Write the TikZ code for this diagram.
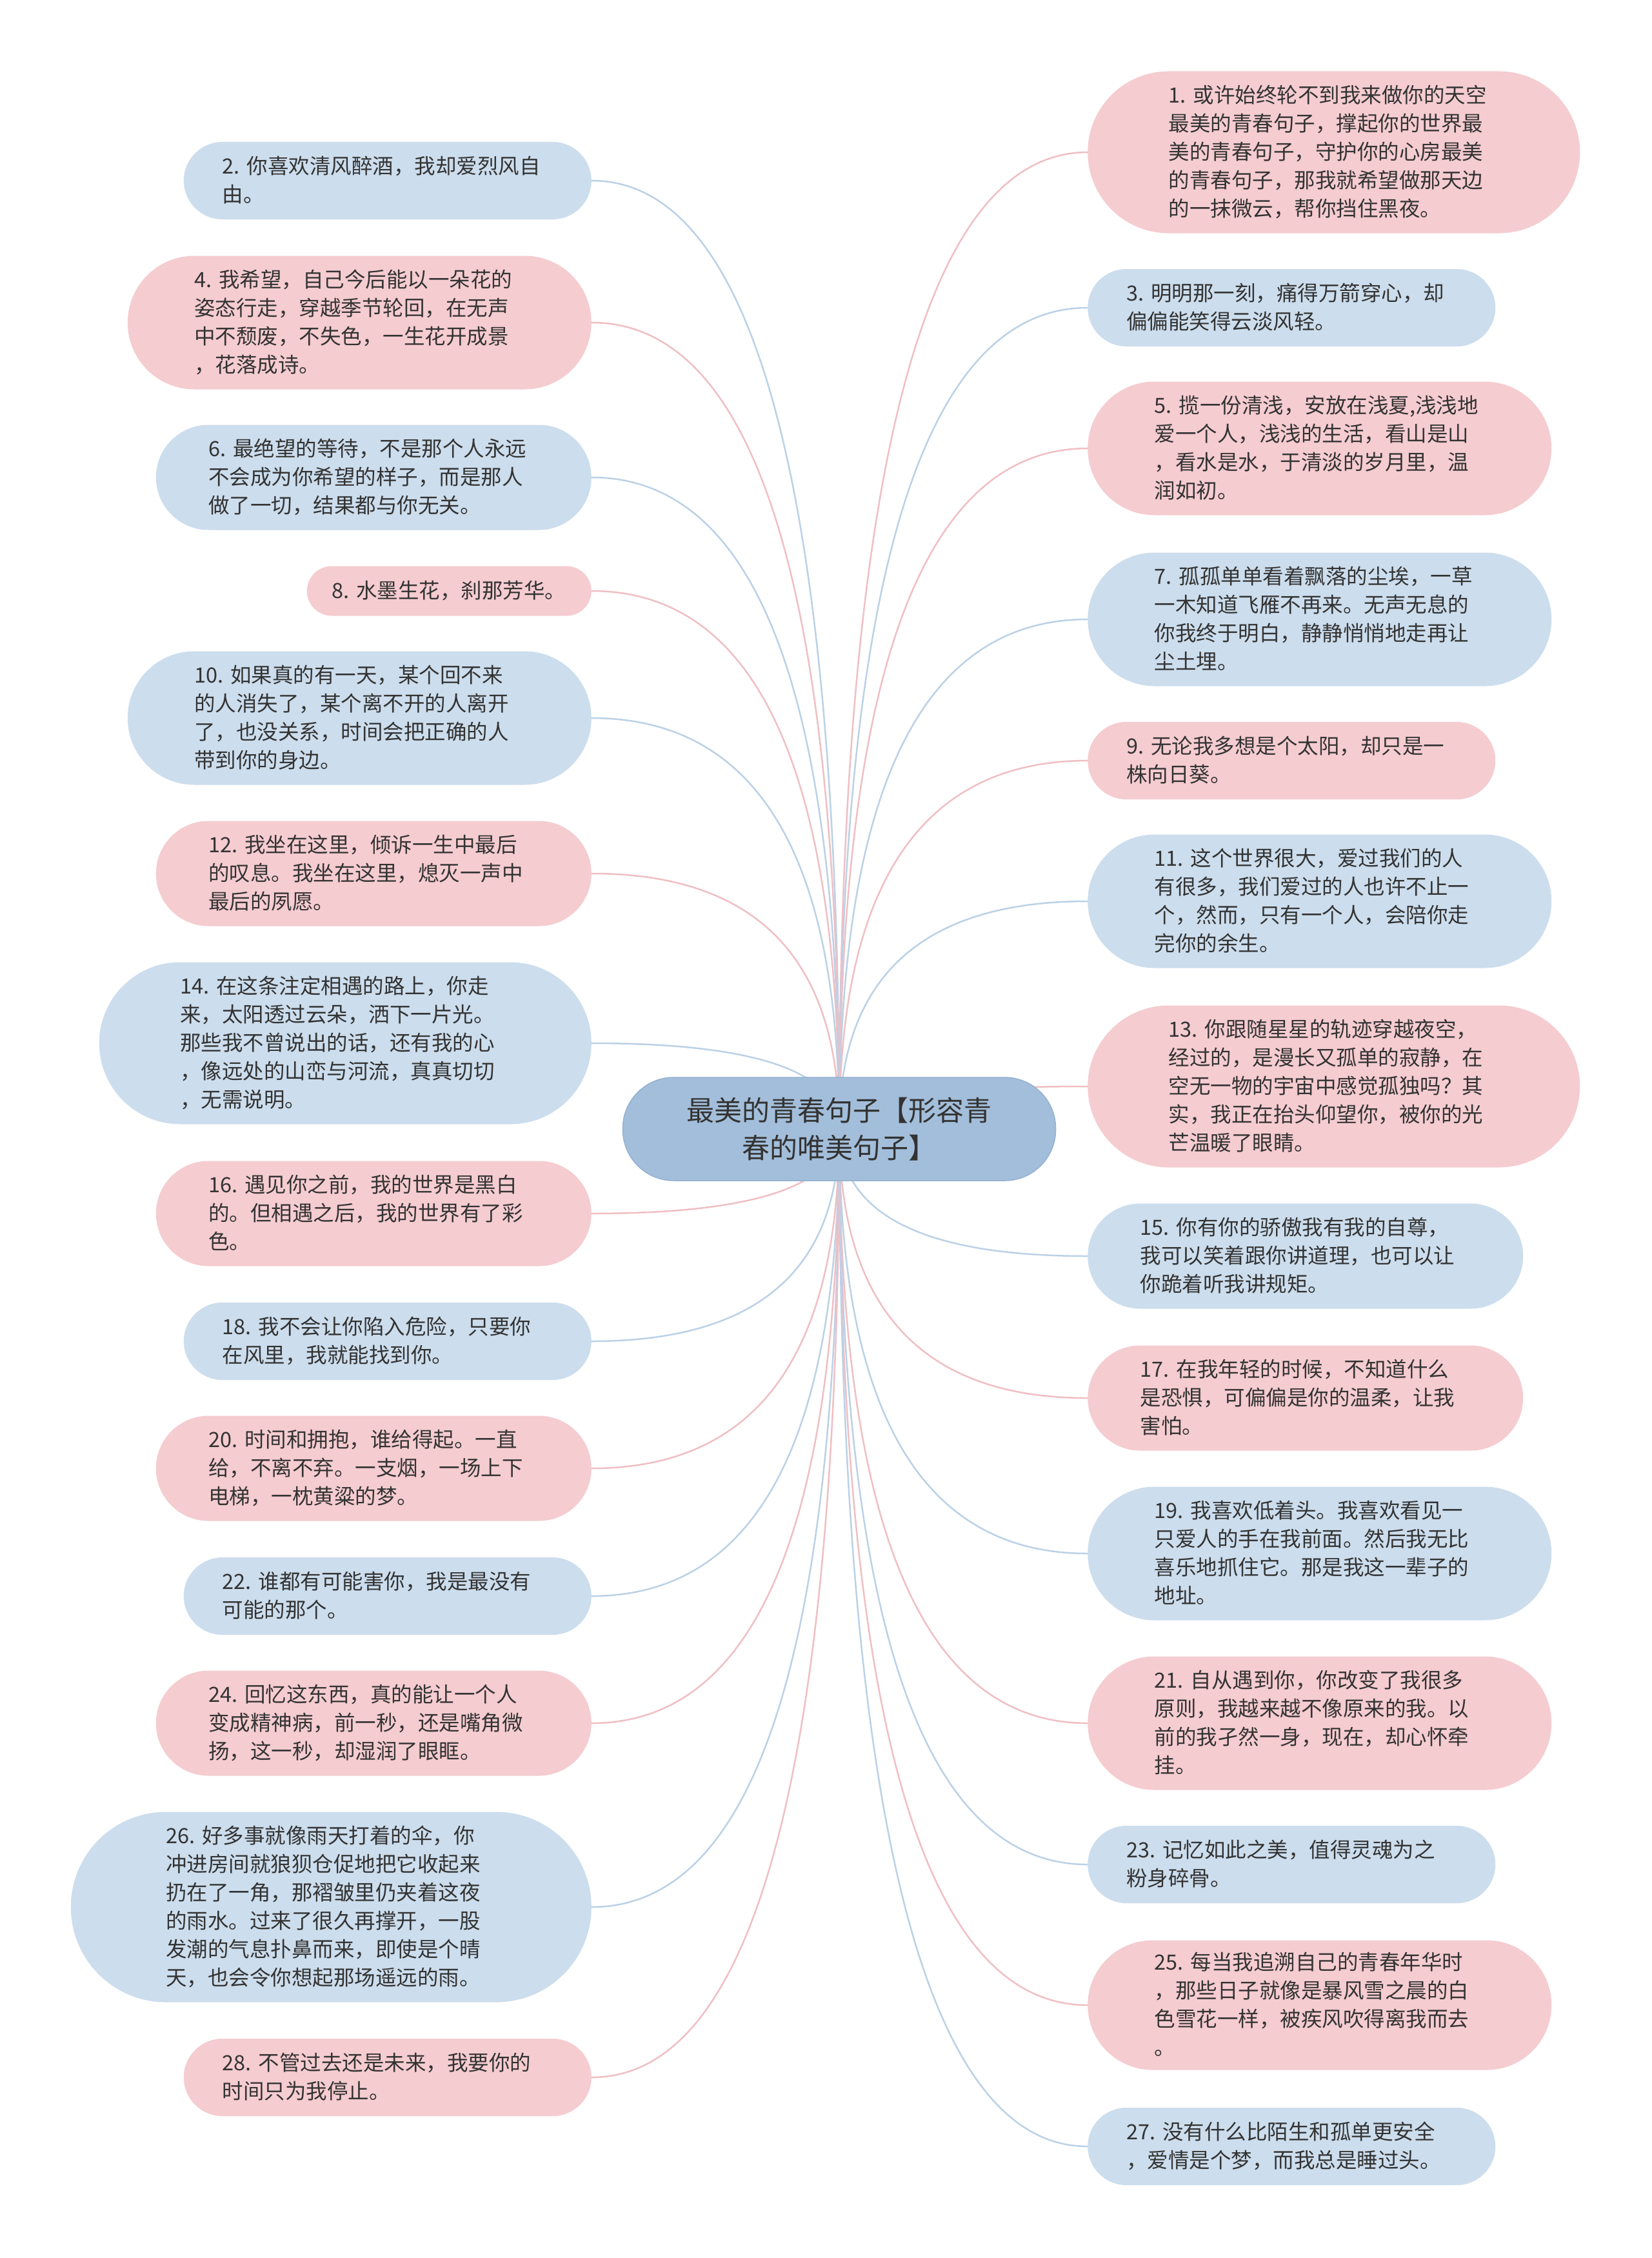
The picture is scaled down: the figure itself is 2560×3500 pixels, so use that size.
\documentclass[tikz,border=0pt]{standalone}
\usepackage{fontspec}
\newfontfamily\cjk{Noto Sans CJK SC}
\usetikzlibrary{calc,backgrounds}
\definecolor{pinkfill}{HTML}{F5CCD0}
\definecolor{bluefill}{HTML}{CCDDED}
\definecolor{rootfill}{HTML}{A3BEDA}
\definecolor{rootline}{HTML}{93B1D1}
\definecolor{pinkline}{HTML}{EFBFC4}
\definecolor{blueline}{HTML}{BBD1E6}
\definecolor{txt}{HTML}{333333}
\newcommand\cjkstrut{\rule[-4pt]{0pt}{29pt}}
\begin{document}
\begin{tikzpicture}[x=1pt,y=-1pt,
  leaf/.style={font={\cjk\fontsize{32.5pt}{44pt}\selectfont}, text=txt,
    text width=512pt, align=left, inner ysep=0pt,
    execute at begin node=\cjkstrut, execute at end node=\cjkstrut},
  pk/.style={leaf, fill=pinkfill},
  bl/.style={leaf, fill=bluefill},
  n1/.style={minimum height=77pt, rounded corners=38.5pt, inner xsep=38.5pt},
  n2/.style={minimum height=120pt, rounded corners=60pt, inner xsep=60pt},
  n3/.style={minimum height=163pt, rounded corners=81.5pt, inner xsep=81.5pt},
  n4/.style={minimum height=207pt, rounded corners=103.5pt, inner xsep=103.5pt},
  n4b/.style={minimum height=201pt, rounded corners=100.5pt, inner xsep=103.5pt},
  n5/.style={minimum height=251pt, rounded corners=125.5pt, inner xsep=125.5pt},
  n6/.style={minimum height=295pt, rounded corners=147.5pt, inner xsep=147.5pt},
  lside/.style={anchor=east},
  rside/.style={anchor=west},
  rootbox/.style={fill=rootfill, draw=rootline, line width=1.5pt,
    minimum width=671pt, minimum height=160pt, rounded corners=79pt,
    align=center, inner sep=0pt, text=txt,
    font={\cjk\fontsize{43pt}{58pt}\selectfont}},
  conn/.style={line width=2.5pt}
]
\useasboundingbox (0,0) rectangle (2560,3500);
\begin{scope}[on background layer]
\fill[white] (0,0) rectangle (2560,3500);
\end{scope}

\node[rootbox] (root) at (1301,1750) {最美的青春句子【形容青\\春的唯美句子】};

% left column
\node[bl,n2,lside] (L2) at (917,280) {2.~你喜欢清风醉酒，我却爱烈风自\\由。};
\node[pk,n4,lside] (L4) at (917,500) {4.~我希望，自己今后能以一朵花的\\姿态行走，穿越季节轮回，在无声\\中不颓废，不失色，一生花开成景\\，花落成诗。};
\node[bl,n3,lside] (L6) at (917,740) {6.~最绝望的等待，不是那个人永远\\不会成为你希望的样子，而是那人\\做了一切，结果都与你无关。};
\node[pk,n1,lside,text width=364pt] (L8) at (917,916) {8.~水墨生花，刹那芳华。};
\node[bl,n4,lside] (L10) at (917,1113) {10.~如果真的有一天，某个回不来\\的人消失了，某个离不开的人离开\\了，也没关系，时间会把正确的人\\带到你的身边。};
\node[pk,n3,lside] (L12) at (917,1354) {12.~我坐在这里，倾诉一生中最后\\的叹息。我坐在这里，熄灭一声中\\最后的夙愿。};
\node[bl,n5,lside] (L14) at (917,1617) {14.~在这条注定相遇的路上，你走\\来，太阳透过云朵，洒下一片光。\\那些我不曾说出的话，还有我的心\\，像远处的山峦与河流，真真切切\\，无需说明。};
\node[pk,n3,lside] (L16) at (917,1881) {16.~遇见你之前，我的世界是黑白\\的。但相遇之后，我的世界有了彩\\色。};
\node[bl,n2,lside] (L18) at (917,2079) {18.~我不会让你陷入危险，只要你\\在风里，我就能找到你。};
\node[pk,n3,lside] (L20) at (917,2276) {20.~时间和拥抱，谁给得起。一直\\给，不离不弃。一支烟，一场上下\\电梯，一枕黄粱的梦。};
\node[bl,n2,lside] (L22) at (917,2474) {22.~谁都有可能害你，我是最没有\\可能的那个。};
\node[pk,n3,lside] (L24) at (917,2671) {24.~回忆这东西，真的能让一个人\\变成精神病，前一秒，还是嘴角微\\扬，这一秒，却湿润了眼眶。};
\node[bl,n6,lside] (L26) at (917,2956) {26.~好多事就像雨天打着的伞，你\\冲进房间就狼狈仓促地把它收起来\\扔在了一角，那褶皱里仍夹着这夜\\的雨水。过来了很久再撑开，一股\\发潮的气息扑鼻而来，即使是个晴\\天，也会令你想起那场遥远的雨。};
\node[pk,n2,lside] (L28) at (917,3220) {28.~不管过去还是未来，我要你的\\时间只为我停止。};

% right column
\node[pk,n5,rside] (R1) at (1686,236) {1.~或许始终轮不到我来做你的天空\\最美的青春句子，撑起你的世界最\\美的青春句子，守护你的心房最美\\的青春句子，那我就希望做那天边\\的一抹微云，帮你挡住黑夜。};
\node[bl,n2,rside] (R3) at (1686,477) {3.~明明那一刻，痛得万箭穿心，却\\偏偏能笑得云淡风轻。};
\node[pk,n4,rside] (R5) at (1686,695) {5.~揽一份清浅，安放在浅夏,浅浅地\\爱一个人，浅浅的生活，看山是山\\，看水是水，于清淡的岁月里，温\\润如初。};
\node[bl,n4,rside] (R7) at (1686,960) {7.~孤孤单单看着飘落的尘埃，一草\\一木知道飞雁不再来。无声无息的\\你我终于明白，静静悄悄地走再让\\尘土埋。};
\node[pk,n2,rside] (R9) at (1686,1179) {9.~无论我多想是个太阳，却只是一\\株向日葵。};
\node[bl,n4,rside] (R11) at (1686,1397) {11.~这个世界很大，爱过我们的人\\有很多，我们爱过的人也许不止一\\个，然而，只有一个人，会陪你走\\完你的余生。};
\node[pk,n5,rside] (R13) at (1686,1684) {13.~你跟随星星的轨迹穿越夜空，\\经过的，是漫长又孤单的寂静，在\\空无一物的宇宙中感觉孤独吗？其\\实，我正在抬头仰望你，被你的光\\芒温暖了眼睛。};
\node[bl,n3,rside] (R15) at (1686,1947) {15.~你有你的骄傲我有我的自尊，\\我可以笑着跟你讲道理，也可以让\\你跪着听我讲规矩。};
\node[pk,n3,rside] (R17) at (1686,2167) {17.~在我年轻的时候，不知道什么\\是恐惧，可偏偏是你的温柔，让我\\害怕。};
\node[bl,n4,rside] (R19) at (1686,2408) {19.~我喜欢低着头。我喜欢看见一\\只爱人的手在我前面。然后我无比\\喜乐地抓住它。那是我这一辈子的\\地址。};
\node[pk,n4,rside] (R21) at (1686,2671) {21.~自从遇到你，你改变了我很多\\原则，我越来越不像原来的我。以\\前的我孑然一身，现在，却心怀牵\\挂。};
\node[bl,n2,rside] (R23) at (1686,2890) {23.~记忆如此之美，值得灵魂为之\\粉身碎骨。};
\node[pk,n4b,rside] (R25) at (1686,3108) {25.~每当我追溯自己的青春年华时\\，那些日子就像是暴风雪之晨的白\\色雪花一样，被疾风吹得离我而去\\。};
\node[bl,n2,rside] (R27) at (1686,3327) {27.~没有什么比陌生和孤单更安全\\，爱情是个梦，而我总是睡过头。};

\begin{scope}[on background layer]
\foreach \n/\c in {L2/blueline,L4/pinkline,L6/blueline,L8/pinkline,L10/blueline,L12/pinkline,L14/blueline,L16/pinkline,L18/blueline,L20/pinkline,L22/blueline,L24/pinkline,L26/blueline,L28/pinkline} {
  \coordinate (k\n) at (root.center |- \n.east);
  \draw[conn,draw=\c] (root.center) .. controls ($(root.center)!0.6667!(k\n)$) and ($(\n.east)!0.6667!(k\n)$) .. (\n.east);
}
\foreach \n/\c in {R1/pinkline,R3/blueline,R5/pinkline,R7/blueline,R9/pinkline,R11/blueline,R13/pinkline,R15/blueline,R17/pinkline,R19/blueline,R21/pinkline,R23/blueline,R25/pinkline,R27/blueline} {
  \coordinate (k\n) at (root.center |- \n.west);
  \draw[conn,draw=\c] (root.center) .. controls ($(root.center)!0.6667!(k\n)$) and ($(\n.west)!0.6667!(k\n)$) .. (\n.west);
}
\end{scope}
\end{tikzpicture}
\end{document}
